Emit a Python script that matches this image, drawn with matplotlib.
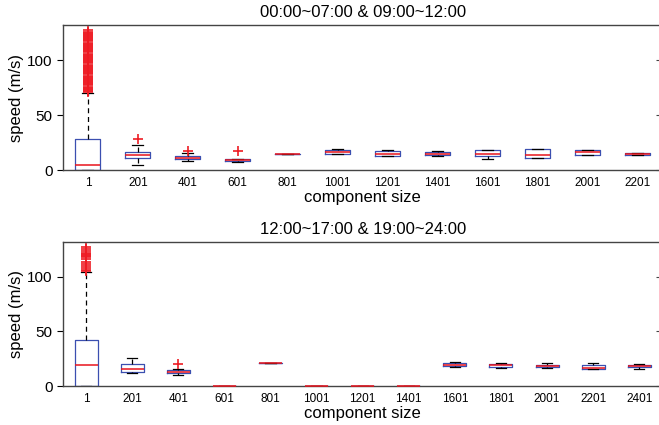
import matplotlib
matplotlib.use("Agg")
import matplotlib.pyplot as plt

plt.rcParams.update({"font.family": ["Liberation Sans", "DejaVu Sans"]})

# ---- panel 1: 00:00~07:00 & 09:00~12:00 ----
top_title = "00:00~07:00 & 09:00~12:00"
top_labels = ["1", "201", "401", "601", "801", "1001", "1201", "1401",
              "1601", "1801", "2001", "2201"]
top_q1 = [0, 11, 10, 8, 14.4, 14.7, 12.6, 13.8, 12.3, 11.3, 13.5, 14.1]
top_med = [5, 13.5, 11, 9.2, 14.4, 16.3, 14.4, 15, 14.7, 13.5, 16, 14.7]
top_q3 = [28, 16, 13, 10.4, 14.4, 17.8, 16.9, 16.3, 18.4, 19, 17.8, 15.3]
top_lo = [0, 4.9, 8.6, 7.4, 14.4, 14.7, 12.6, 13.2, 10.4, 11.3, 13.5, 14.1]
top_hi = [70, 22.4, 15.3, 10.4, 14.4, 18.7, 18.4, 17.2, 18.4, 19, 18.4, 15.3]
top_fliers = [
    [71, 72, 73, 74, 75, 76, 77, 78, 79, 80, 81, 82, 83, 84, 85, 86, 87,
     88, 89, 90, 91, 92, 93, 94, 95, 96, 97, 98, 99, 100, 101, 102, 103,
     104, 105, 106, 107, 108, 109, 110, 111, 112, 113, 114, 115, 116, 117,
     118, 119, 120, 121, 122, 123, 124, 125, 126, 127],
    [28], [17], [17], [], [], [], [], [], [], [], []]

# ---- panel 2: 12:00~17:00 & 19:00~24:00 ----
bot_title = "12:00~17:00 & 19:00~24:00"
bot_labels = ["1", "201", "401", "601", "801", "1001", "1201", "1401",
              "1601", "1801", "2001", "2201", "2401"]
bot_q1 = [0, 13, 11.8, 0, 20.7, 0, 0, 0, 18, 17.3, 17, 15.5, 17]
bot_med = [19.5, 15.8, 12.7, 0, 20.7, 0, 0, 0, 19.5, 18.9, 18.3, 16.4, 18.6]
bot_q3 = [42, 19.8, 14.5, 0, 20.7, 0, 0, 0, 21, 20.4, 19.5, 18.9, 19.5]
bot_lo = [0, 11.8, 10.5, 0, 20.7, 0, 0, 0, 17.3, 16.7, 16.4, 15.5, 16]
bot_hi = [104.6, 26, 15.5, 0, 20.7, 0, 0, 0, 21.7, 21, 20.7, 20.7, 20.4]
bot_fliers = [
    [105, 106, 108, 110, 112, 114, 116, 118, 119, 120, 121, 122, 124, 126, 127],
    [], [20], [], [], [], [], [], [], [], [], [], []]

BOX_C = "#3b4fb0"


def draw(ax, title, labels, q1, med, q3, lo, hi, fliers):
    stats = []
    for i in range(len(labels)):
        stats.append({"q1": q1[i], "med": med[i], "q3": q3[i],
                      "whislo": lo[i], "whishi": hi[i], "fliers": fliers[i]})
    pos = list(range(1, len(labels) + 1))
    parts = ax.bxp(stats, positions=pos, widths=0.5, capwidths=0.22,
                   boxprops=dict(color=BOX_C, linewidth=0.9),
                   medianprops=dict(color="#e8141c", linewidth=1.1, zorder=4),
                   whiskerprops=dict(color="black", linestyle=(0, (4, 3)),
                                     linewidth=0.9),
                   capprops=dict(color="black", linewidth=0.9),
                   flierprops=dict(marker="+", markeredgecolor="#ee1c24",
                                   markersize=7, markeredgewidth=1.2,
                                   linestyle="none"))
    for m in parts["medians"]:
        m.set_clip_on(False)
    ax.set_xlim(0.5, len(labels) + 0.5)
    ax.set_ylim(0, 132)
    ax.set_yticks([0, 50, 100])
    ax.set_xticks(pos)
    ax.set_xticklabels(labels, fontsize=8.5)
    ax.tick_params(axis="y", labelsize=11, direction="out", length=4)
    ax.tick_params(axis="x", length=0, pad=5)
    for s in ax.spines.values():
        s.set_color("#444444")
        s.set_linewidth(1.0)
    sec = ax.secondary_yaxis("right")
    sec.set_yticks([0, 50, 100])
    sec.tick_params(direction="in", length=4, labelright=False,
                    color="#444444")
    sec.spines["right"].set_visible(False)
    ax.set_title(title, fontsize=12, pad=6)
    ax.set_xlabel("component size", fontsize=12, labelpad=1)
    ax.set_ylabel("speed (m/s)", fontsize=12, labelpad=2)


fig = plt.figure(figsize=(6.59, 4.25), dpi=100)
ax1 = fig.add_axes([63 / 659, 1 - 170 / 425, 1.005 - 63 / 659, 145 / 425])
ax2 = fig.add_axes([63 / 659, 1 - 386 / 425, 1.005 - 63 / 659, 144 / 425])
draw(ax1, top_title, top_labels, top_q1, top_med, top_q3, top_lo, top_hi,
     top_fliers)
draw(ax2, bot_title, bot_labels, bot_q1, bot_med, bot_q3, bot_lo, bot_hi,
     bot_fliers)

fig.savefig("out.png", dpi=100)
